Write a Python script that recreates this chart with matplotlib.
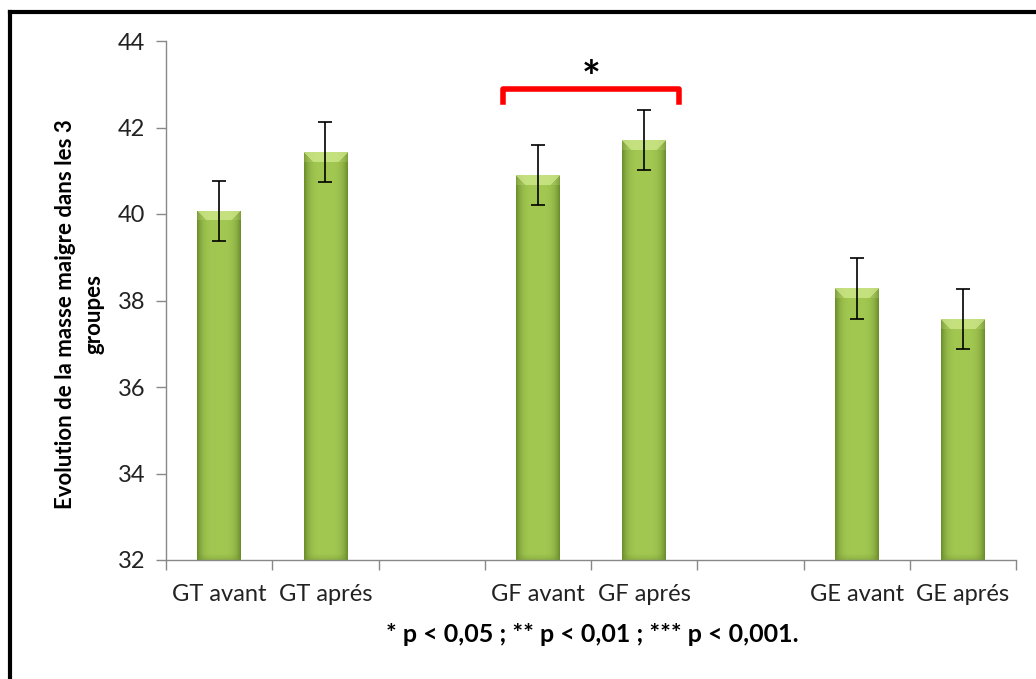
import numpy as np
import matplotlib
matplotlib.use("Agg")
import matplotlib.pyplot as plt
from matplotlib.lines import Line2D

categories = ["GT avant", "GT aprés", "", "GF avant", "GF aprés", "", "GE avant", "GE aprés"]
values = [40.07, 41.43, None, 40.9, 41.71, None, 38.28, 37.57]
errors = [0.7, 0.7, None, 0.7, 0.7, None, 0.7, 0.7]
y_ticks = [32, 34, 36, 38, 40, 42, 44]
ylabel = "Evolution de la masse maigre dans les 3\ngroupes"
footnote = "* p < 0,05 ; ** p < 0,01 ; *** p < 0,001."
sig_pair = (3, 4)
sig_text = "*"

plt.rcParams['font.family'] = ['Lato', 'DejaVu Sans']

W, H = 1036, 679
fig = plt.figure(figsize=(W / 100, H / 100), dpi=100)
ax = fig.add_axes([166 / W, 1 - 560 / H, 850 / W, 519 / H])

ymin, ymax = 32, 44
ax.set_ylim(ymin, ymax)
ax.set_xlim(-0.5, len(categories) - 0.5)

bw = 0.41
xs = [i for i, v in enumerate(values) if v is not None]
vals = [v for v in values if v is not None]
errs = [e for e in errors if e is not None]

bars = ax.bar(xs, vals, width=bw, bottom=0, color="#92ba42", edgecolor="none", zorder=2)

# gradient shading clipped to each bar
ppu_x = 850 / len(categories)
ppu_y = 519 / (ymax - ymin)
mid = np.array([0xa2, 0xc8, 0x52]) / 255
edge = np.array([0x6c, 0x8e, 0x2c]) / 255
top = np.array([0xd2, 0xea, 0x8e]) / 255
for b, v in zip(bars, vals):
    x0 = b.get_x()
    wpx = int(round(bw * ppu_x))
    hpx = int(round((v - ymin) * ppu_y))
    img = np.zeros((hpx, wpx, 3))
    cols = np.linspace(-1, 1, wpx)
    t = np.abs(cols) ** 4
    row = mid[None, :] * (1 - t[:, None]) + edge[None, :] * t[:, None]
    img[:] = row[None, :, :]
    nb = 6
    for k in range(nb):
        f = (nb - k) / nb * 0.35
        img[hpx - 1 - k] = img[hpx - 1 - k] * (1 - f) + edge * f
    bev = 10
    for r in range(bev):
        for c in range(wpx):
            d = min(c, wpx - 1 - c)
            if d >= r:
                img[r, c] = top * 0.75 + img[r, c] * 0.25
            else:
                img[r, c] = img[r, c] * 0.8 + top * 0.2
    im = ax.imshow(img, extent=[x0, x0 + bw, ymin, v], aspect="auto",
                   interpolation="bilinear", zorder=2.5)
    im.set_clip_path(b)

ax.errorbar(xs, vals, yerr=errs, fmt="none", ecolor="black", elinewidth=1.2,
            capsize=5, capthick=1.2, zorder=3)

ax.set_xlim(-0.5, len(categories) - 0.5)
ax.set_ylim(ymin, ymax)
ax.set_yticks(y_ticks)
ax.set_yticklabels([str(t) for t in y_ticks], fontsize=17, color="#222222")
ax.set_xticks(np.arange(len(categories)))
ax.set_xticklabels(categories, fontsize=17, color="#222222")
ax.tick_params(axis="x", length=0, pad=17)
ax.set_xticks(np.arange(len(categories) + 1) - 0.5, minor=True)
ax.tick_params(axis="x", which="minor", length=7, color="#888888", width=1)
ax.tick_params(axis="y", length=7, color="#888888", width=1, pad=8)

for s in ["top", "right"]:
    ax.spines[s].set_visible(False)
for s in ["left", "bottom"]:
    ax.spines[s].set_color("#888888")
    ax.spines[s].set_linewidth(1)

fig.text(80 / W, 1 - 314 / H, ylabel, rotation=90, ha="center", va="center",
         multialignment="center", fontsize=16, fontweight="bold", linespacing=1.45)

# significance bracket
ytop = 42.88
yleg = 42.59
xa = sig_pair[0] - 0.33
xb = sig_pair[1] + 0.33
ax.plot([xa, xa, xb, xb], [yleg, ytop, ytop, yleg], color="#ff0000", lw=4,
        solid_joinstyle="round", clip_on=False, zorder=4)
ax.text((sig_pair[0] + sig_pair[1]) / 2, 42.82, sig_text, ha="center", va="baseline",
        fontsize=32, fontweight="bold")

fig.text(592 / W, 1 - 634 / H, footnote, ha="center", va="center", fontsize=18,
         fontweight="bold")

# figure border (left and top visible)
fig.add_artist(Line2D([10 / W, 10 / W], [0, 1 - 12 / H], transform=fig.transFigure,
                      color="black", lw=3))
fig.add_artist(Line2D([10 / W, 1], [1 - 12 / H, 1 - 12 / H], transform=fig.transFigure,
                      color="black", lw=3))

fig.savefig("out.png", dpi=100)
